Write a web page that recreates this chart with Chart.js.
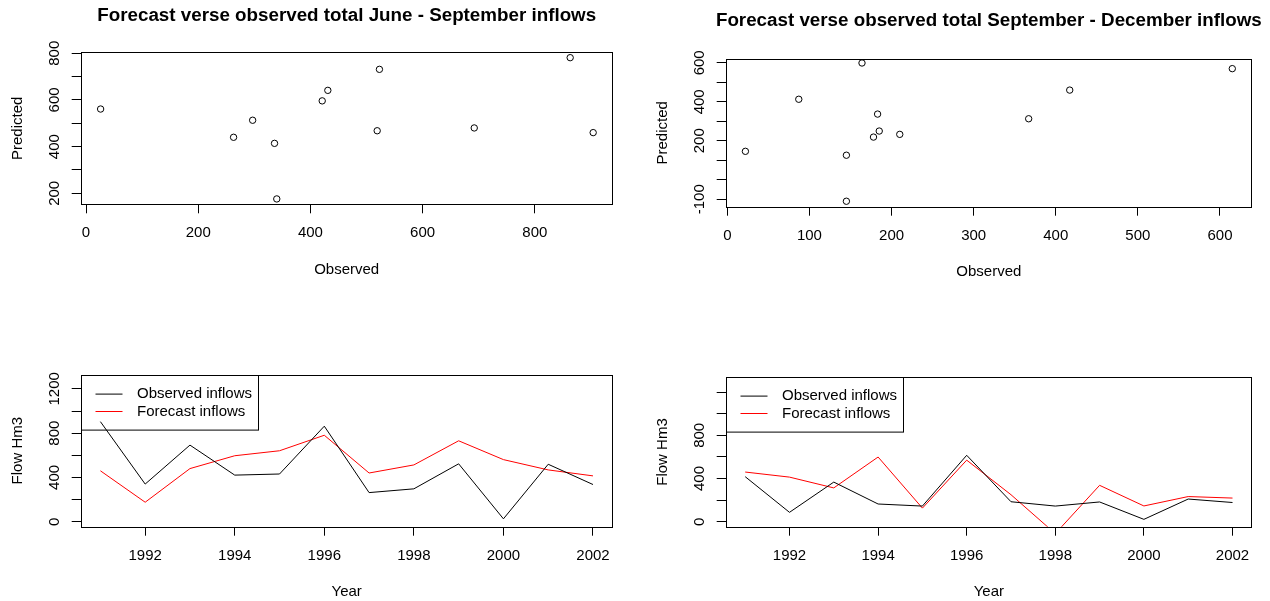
<!DOCTYPE html>
<html>
<head>
<meta charset="utf-8">
<script src="https://cdn.jsdelivr.net/npm/chart.js@4.4.0/dist/chart.umd.min.js"></script>
<style>
  html, body { margin: 0; padding: 0; background: #fff; }
  #wrap { position: relative; width: 1270px; height: 601px; overflow: hidden; background: #fff; }
  #wrap canvas { position: absolute; left: 0; top: 0; }
</style>
</head>
<body>
<div id="wrap">
  <canvas id="scatterJS" width="1270" height="601"></canvas>
  <canvas id="scatterSD" width="1270" height="601"></canvas>
  <canvas id="lineJS" width="1270" height="601"></canvas>
  <canvas id="lineSD" width="1270" height="601"></canvas>
</div>
<script>
// years of record
const years = [1991, 1992, 1993, 1994, 1995, 1996, 1997, 1998, 1999, 2000, 2001, 2002];

// June - September totals (Hm3)
const observedJS = [904, 340, 692, 421, 431, 863, 263, 297, 523, 26, 519, 336];
const forecastJS = [460, 176, 480, 596, 641, 781, 440, 513, 731, 561, 468, 414];

// September - December totals (Hm3)
const observedSD = [417, 87, 367, 164, 145, 615, 185, 145, 183, 22, 210, 178];
const forecastSD = [460, 413, 313, 599, 126, 570, 250, -110, 337, 146, 233, 219];

// tick marks and the ones that get a label
const obsTicksJS = [0, 200, 400, 600, 800];
const predTicksJS = [200, 300, 400, 500, 600, 700, 800];
const predLabelsJS = [200, 400, 600, 800];
const obsTicksSD = [0, 100, 200, 300, 400, 500, 600];
const predTicksSD = [-100, 0, 100, 200, 300, 400, 500, 600];
const predLabelsSD = [-100, 200, 400, 600];
const yearTicks = [1992, 1994, 1996, 1998, 2000, 2002];
const flowTicks = [0, 200, 400, 600, 800, 1000, 1200];
const flowLabelsJS = [0, 400, 800, 1200];
const flowLabelsSD = [0, 400, 800];

const FONT = '"Liberation Sans", Arial, sans-serif';
Chart.defaults.font.family = FONT;
Chart.defaults.font.size = 15;
Chart.defaults.color = '#000';

const measure = document.createElement('canvas').getContext('2d');
measure.font = '15px ' + FONT;

// R puts rotated y labels about 26px left of the axis
function yPad(labels) {
  const w = Math.max(...labels.map(v => measure.measureText(String(v)).width));
  return 26 - 9 - w / 2;
}

function setTicks(vals) {
  return (axis) => { axis.ticks = vals.map(v => ({ value: v })); };
}

function labelOnly(vals) {
  return (v) => vals.includes(v) ? String(v) : '';
}

const boxPlugin = {
  id: 'plotBox',
  afterDraw(chart) {
    const a = chart.chartArea;
    const c = chart.ctx;
    c.save();
    c.strokeStyle = '#000';
    c.lineWidth = 1;
    c.strokeRect(Math.round(a.left) + 0.5, Math.round(a.top) + 0.5,
      Math.round(a.right) - Math.round(a.left) - 1, Math.round(a.bottom) - Math.round(a.top));
    c.restore();
  }
};

// main title centred over the plot box, allowed to run wider than it (like R)
const titlePlugin = {
  id: 'rTitle',
  afterDraw(chart, args, opts) {
    if (!opts.text) return;
    const a = chart.chartArea;
    const c = chart.ctx;
    c.save();
    c.font = 'bold ' + opts.size + 'px ' + FONT;
    c.fillStyle = '#000';
    c.textAlign = 'center';
    c.textBaseline = 'middle';
    c.fillText(opts.text, (a.left + a.right) / 2, opts.y);
    c.restore();
  }
};

const legendPlugin = {
  id: 'rLegend',
  afterDatasetsDraw(chart, args, opts) {
    if (!opts.show) return;
    const a = chart.chartArea;
    const c = chart.ctx;
    const left = Math.round(a.left) + 0.5, top = Math.round(a.top) + 0.5;
    c.save();
    c.strokeStyle = '#000';
    c.lineWidth = 1;
    c.strokeRect(left, top, opts.width, opts.height);
    c.font = '15px ' + FONT;
    c.textBaseline = 'middle';
    c.textAlign = 'left';
    chart.data.datasets.forEach((ds, i) => {
      const y = top + opts.rowY[i];
      c.strokeStyle = ds.borderColor;
      c.beginPath();
      c.moveTo(left + opts.lineX[0], y);
      c.lineTo(left + opts.lineX[1], y);
      c.stroke();
      c.fillStyle = '#000';
      c.fillText(ds.label, left + opts.textX, y);
    });
    c.restore();
  }
};

function axisY(cfg) {
  return {
    type: 'linear',
    position: 'left',
    min: cfg.min, max: cfg.max,
    bounds: 'data',
    afterBuildTicks: setTicks(cfg.ticks),
    afterFit: (s) => { s.width = 80.7; },
    grid: { drawOnChartArea: false, drawTicks: true, tickLength: 9, color: '#000' },
    border: { display: false },
    ticks: {
      autoSkip: false, minRotation: 90, maxRotation: 90, crossAlign: 'center',
      padding: yPad(cfg.labels), callback: labelOnly(cfg.labels)
    },
    title: { display: true, text: cfg.title, padding: { top: 8.5, bottom: 0 } }
  };
}

function axisX(cfg) {
  return {
    type: 'linear',
    position: 'bottom',
    min: cfg.min, max: cfg.max,
    bounds: 'data',
    afterBuildTicks: setTicks(cfg.ticks),
    afterFit: (s) => { s.height = cfg.height; },
    grid: { drawOnChartArea: false, drawTicks: true, tickLength: 9, color: '#000' },
    border: { display: false },
    ticks: { autoSkip: false, maxRotation: 0, padding: 11, callback: (v) => String(v) },
    title: { display: true, text: cfg.title, padding: { top: 0, bottom: cfg.titlePad } }
  };
}

function pairs(xs, ys) {
  return xs.map((x, i) => ({ x: x, y: ys[i] }));
}

function scatterChart(id, obs, fc, o) {
  return new Chart(document.getElementById(id), {
    type: 'scatter',
    data: {
      datasets: [{
        label: 'Predicted',
        data: pairs(obs, fc),
        pointStyle: 'circle',
        pointRadius: 3.2,
        pointBorderWidth: 1,
        borderColor: '#000',
        backgroundColor: 'rgba(0,0,0,0)'
      }]
    },
    options: {
      responsive: false,
      animation: false,
      layout: { padding: o.padding },
      plugins: {
        legend: { display: false },
        tooltip: { enabled: false },
        title: { display: false },
        rTitle: { text: o.title, size: 18.8, y: o.titleY },
        rLegend: { show: false }
      },
      scales: {
        x: axisX({ min: o.xMin, max: o.xMax, ticks: o.xTicks, title: 'Observed', height: 80, titlePad: o.xTitlePad }),
        y: axisY({ min: o.yMin, max: o.yMax, ticks: o.yTicks, labels: o.yLabels, title: 'Predicted' })
      }
    },
    plugins: [boxPlugin, titlePlugin, legendPlugin]
  });
}

function lineChart(id, obs, fc, o) {
  return new Chart(document.getElementById(id), {
    type: 'line',
    data: {
      datasets: [
        { label: 'Observed inflows', data: pairs(years, obs), borderColor: '#000', borderWidth: 1, pointRadius: 0, tension: 0, fill: false },
        { label: 'Forecast inflows', data: pairs(years, fc), borderColor: '#ff0000', borderWidth: 1, pointRadius: 0, tension: 0, fill: false }
      ]
    },
    options: {
      responsive: false,
      animation: false,
      layout: { padding: o.padding },
      plugins: {
        legend: { display: false },
        tooltip: { enabled: false },
        title: { display: false },
        rTitle: { text: '' },
        rLegend: { show: true, width: 177, height: 54.6, rowY: [18.6, 36], lineX: [14, 41], textX: 55.5 }
      },
      scales: {
        x: axisX({ min: 1990.56, max: 2002.44, ticks: yearTicks, title: 'Year', height: 74.3, titlePad: 0 }),
        y: axisY({ min: o.yMin, max: o.yMax, ticks: flowTicks, labels: o.yLabels, title: 'Flow Hm3' })
      }
    },
    plugins: [boxPlugin, titlePlugin, legendPlugin]
  });
}

scatterChart('scatterJS', observedJS, forecastJS, {
  title: 'Forecast verse observed total June - September inflows',
  titleY: 16,
  padding: { left: 0, right: 657.3, top: 52.3, bottom: 316.7 },
  xMin: -9.5, xMax: 938.8, xTicks: obsTicksJS, xTitlePad: 5.3,
  yMin: 153, yMax: 804, yTicks: predTicksJS, yLabels: predLabelsJS
});

scatterChart('scatterSD', observedSD, forecastSD, {
  title: 'Forecast verse observed total September - December inflows',
  titleY: 21.2,
  padding: { left: 645, right: 18, top: 59, bottom: 314.3 },
  xMin: -2, xMax: 639, xTicks: obsTicksSD, xTitlePad: 5.7,
  yMin: -138, yMax: 619.5, yTicks: predTicksSD, yLabels: predLabelsSD
});

lineChart('lineJS', observedJS, forecastJS, {
  padding: { left: 0, right: 657.3, top: 374.7, bottom: 0 },
  yMin: -45, yMax: 1328, yLabels: flowLabelsJS
});

lineChart('lineSD', observedSD, forecastSD, {
  padding: { left: 645, right: 18, top: 377.3, bottom: 0 },
  yMin: -46, yMax: 1337, yLabels: flowLabelsSD
});
</script>
</body>
</html>
